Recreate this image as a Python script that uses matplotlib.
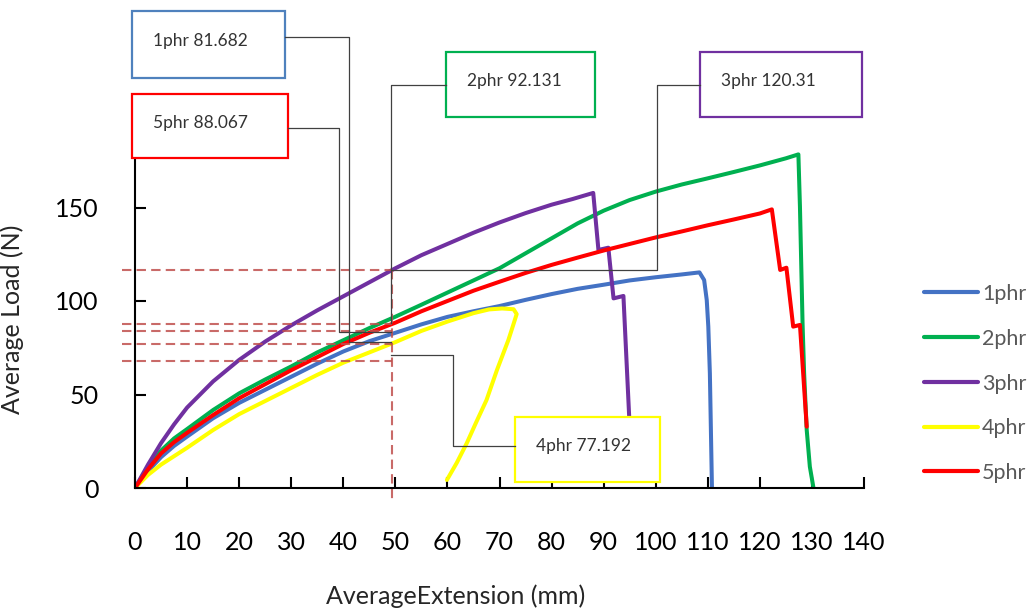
import matplotlib
matplotlib.use("Agg")
import matplotlib.pyplot as plt
from matplotlib.transforms import Affine2D
from matplotlib.patches import Rectangle
from matplotlib.lines import Line2D

plt.rcParams['font.family'] = ['Lato', 'DejaVu Sans']

# load / extension curves
x_1phr = [0, 2.5, 5, 7.5, 10, 15, 20, 25, 30, 35, 40, 45, 50, 55, 60, 65, 70, 75, 80, 85, 90, 95, 100, 105, 108.4,
          109.3, 109.8, 110.1, 110.4, 110.8]
y_1phr = [0, 9, 16.5, 22.5, 27.5, 37.3, 45.5, 52.5, 59.5, 66.5, 73, 78.5, 83, 87.5, 91.5, 94.5, 97.3, 100.6, 103.7, 106.5,
          108.7, 111, 112.7, 114.2, 115.3, 111.2, 100.5, 86.3, 61.3, 0]

x_2phr = [0, 2.5, 5, 7.5, 10, 15, 20, 25, 30, 35, 40, 45, 50, 55, 60, 65, 70, 75, 80, 85, 90, 95, 100, 105, 110, 115,
          120, 125, 127.4, 127.7, 128.2, 128.5, 129, 129.6, 130.3]
y_2phr = [0, 11, 20, 26.5, 31.5, 41.7, 50.6, 58, 65, 72.5, 79, 85.5, 91.6, 98, 104.5, 111, 117.5, 125.5, 133.5, 141.5,
          148.3, 154, 158.5, 162.3, 165.6, 169, 172.5, 176.3, 178.4, 150.4, 88, 61.3, 31, 11.4, 0]

x_3phr = [0, 2.5, 5, 7.5, 10, 15, 20, 25, 30, 35, 40, 45, 50, 55, 60, 65, 70, 75, 80, 84, 88, 89, 90.9, 91.9, 93.8, 94.9]
y_3phr = [0, 12.5, 24, 34, 43, 57, 68.5, 78.3, 87, 95, 102.5, 110, 117.5, 124.5, 130.5, 136.5, 142, 147, 151.5, 154.5,
          157.8, 127.3, 128.5, 101.4, 102.7, 38.5]

x_4phr = [0, 2.5, 5, 7.5, 10, 15, 20, 25, 30, 35, 40, 45, 50, 55, 60, 65, 68, 70.5, 72.7, 73.3, 72.5, 71.7, 69.5, 67.5,
          65.5, 63.7, 61.8, 59.9]
y_4phr = [0, 7, 12.5, 17, 21.5, 31, 39.5, 46.5, 53.5, 60.5, 67, 72.5, 78, 84, 89, 93.5, 95.5, 96, 95.6, 93, 86, 79.1, 63,
          47, 35, 23.9, 13.5, 4.3]

x_5phr = [0, 2.5, 5, 7.5, 10, 15, 20, 25, 30, 35, 40, 45, 50, 55, 60, 65, 70, 75, 80, 85, 90, 95, 100, 105, 110, 115,
          120, 122.3, 123.9, 125.1, 126.4, 127.7, 129]
y_5phr = [0, 10, 18.5, 24.5, 29.5, 39, 48, 55.5, 63, 70, 77, 83, 88.4, 94.5, 100, 105.5, 110.3, 115, 119.3, 123.2, 127,
          130.5, 134, 137.2, 140.5, 143.6, 146.8, 149, 116.6, 117.8, 86.3, 87.2, 32.8]

series_names = ['1phr', '2phr', '3phr', '4phr', '5phr']
series_colors = ['#4472C4', '#00B050', '#7030A0', '#FFFF00', '#FF0000']
series_x = [x_1phr, x_2phr, x_3phr, x_4phr, x_5phr]
series_y = [y_1phr, y_2phr, y_3phr, y_4phr, y_5phr]

x_ticks = list(range(0, 141, 10))
y_ticks = [0, 50, 100, 150]

# dashed reference levels at 50 mm
ref_x = 49.4
ref_levels = [116.4, 87.9, 83.8, 77.2, 67.9]

# callout boxes: label, border colour, box (px), leader path (px)
callout_labels = ['1phr 81.682', '5phr 88.067', '2phr 92.131', '3phr 120.31', '4phr 77.192']
callout_colors = ['#4F81BD', '#FF0000', '#00B050', '#7030A0', '#FFFF00']
callout_boxes = [(132, 11, 153, 67), (132, 94, 156, 64), (446, 52, 149, 65), (700, 52, 162, 65), (515, 417, 145, 65)]
callout_leaders = [
    [(285, 37), (349, 37), (349, 342), (391, 342)],
    [(288, 128), (339, 128), (339, 332), (391, 332)],
    [(446, 85), (391, 85), (391, 323)],
    [(700, 85), (657, 85), (657, 270), (391, 270)],
    [(515, 446), (453, 446), (453, 355), (391, 355)],
]

W, H = 1033, 615
fig = plt.figure(figsize=(W / 100, H / 100), dpi=100)
ax = fig.add_axes([135 / W, 1 - 488 / H, 729 / W, 336.6 / H])
pix = Affine2D().scale(1 / W, -1 / H).translate(0, 1) + fig.transFigure

for name, col, xs, ys in zip(series_names, series_colors, series_x, series_y):
    ax.plot(xs, ys, color=col, lw=2.9, label=name, solid_capstyle='round', solid_joinstyle='round')

for lev in ref_levels:
    ax.plot([-2.5, ref_x], [lev, lev], color='#C0504D', alpha=0.85, lw=1.5,
            dashes=(4.5, 2.5), clip_on=False)
ax.plot([ref_x, ref_x], [max(ref_levels), -8], color='#C0504D', alpha=0.85, lw=1.5,
        dashes=(4.5, 2.5), clip_on=False)

ax.set_xlim(0, 140)
ax.set_ylim(0, 180)
ax.set_xticks(x_ticks)
ax.set_yticks(y_ticks)
for s in ['top', 'right']:
    ax.spines[s].set_visible(False)
for s in ['left', 'bottom']:
    ax.spines[s].set_linewidth(1.5)
ax.tick_params(axis='both', direction='in', length=8, width=1.5, labelsize=18, colors='black')
ax.tick_params(axis='x', pad=31)
ax.tick_params(axis='y', pad=26)
ax.set_xlabel('AverageExtension (mm)', fontsize=18, color='#262626')
ax.set_ylabel('Average Load (N)', fontsize=18, color='#262626')
ax.xaxis.set_label_coords(0.44, -0.285)
ax.yaxis.set_label_coords(-0.152, 0.5)

leg = ax.legend(loc='upper left', bbox_to_anchor=(924 / W, 1 - 284 / H), bbox_transform=fig.transFigure,
                frameon=False, fontsize=15.5, handlelength=2.5, handletextpad=0.2,
                labelspacing=1.15, borderpad=0, borderaxespad=0)
for t in leg.get_texts():
    t.set_color('#595959')
for ln in leg.get_lines():
    ln.set_linewidth(3)

for lab, col, box, path in zip(callout_labels, callout_colors, callout_boxes, callout_leaders):
    xs = [p[0] for p in path]
    ys = [p[1] for p in path]
    fig.add_artist(Line2D(xs, ys, transform=pix, color='#404040', lw=0.9))
    bx, by, bw, bh = box
    fig.add_artist(Rectangle((bx, by), bw, bh, transform=pix, facecolor='white',
                             edgecolor=col, lw=1.6))
    fig.text(bx + 21, by + bh * 0.45, lab, transform=pix, ha='left', va='center',
             fontsize=12.5, color='#333333')

fig.savefig('out.png', dpi=100)
